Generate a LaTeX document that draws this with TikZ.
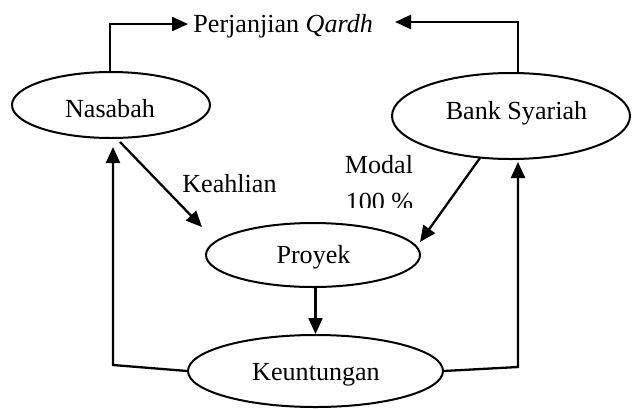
\documentclass[tikz,border=0pt]{standalone}
\usepackage{fontspec}
\setmainfont{Liberation Serif}
\usetikzlibrary{shapes.geometric,arrows.meta}

\begin{document}
\begin{tikzpicture}[x=0.5pt,y=-0.5pt,
  every node/.style={font=\fontsize{13.05pt}{15pt}\selectfont},
  oval/.style={ellipse,draw,line width=1pt,inner sep=0pt},
  lbl/.style={anchor=base,inner sep=0pt},
  arr/.style={line width=1.15pt,-{Triangle[length=8pt,width=7pt]}}]
\useasboundingbox (0,0) rectangle (632,408);

% ellipses
\node[oval,minimum width=99pt,minimum height=33pt]   (nas)  at (111,105) {};
\node[oval,minimum width=119pt,minimum height=43pt]  (bank) at (511,116) {};
\node[oval,minimum width=107pt,minimum height=32pt]  (pro)  at (313,255) {};
\node[oval,minimum width=127.5pt,minimum height=36pt] (keu) at (315.5,371) {};

% texts
\node[lbl] (tnas)  at (110,117)   {Nasabah};
\node[lbl] (tbank) at (516.5,119) {Bank Syariah};
\node[lbl] (tpro)  at (313.5,263) {Proyek};
\node[lbl] (tkeu)  at (316,380)   {Keuntungan};
\node[lbl,anchor=base west] (title) at (193,32) {Perjanjian \textit{Qardh}};
\node[lbl,anchor=base west] (keah)  at (182,192) {Keahlian};
\node[lbl] (modal) at (379,173) {Modal};
\begin{scope}
  \clip (330,180) rectangle (430,207);
  \node[lbl] (pct) at (379.5,210) {100 \%};
\end{scope}

% connector points
\coordinate (nq)  at (110,24);
\coordinate (nqt) at (188,24);
\coordinate (bq)  at (518,22);
\coordinate (bqt) at (395,22);
\coordinate (k1)  at (120,142);
\coordinate (k2)  at (202,227);
\coordinate (m1)  at (480,158);
\coordinate (m2)  at (420,242);
\coordinate (lc)  at (113,365);
\coordinate (lt)  at (113,147);
\coordinate (rc)  at (518,367);
\coordinate (rt)  at (518,162);

% connectors
\draw[arr] (nq |- nas.north) -- (nq) -- (nqt);
\draw[arr] (bq |- bank.north) -- (bq) -- (bqt);
\draw[arr] (k1) -- (k2);
\draw[arr] (m1) -- (m2);
\draw[arr] (keu.north |- pro.south) -- (keu.north);
\draw[arr] (keu.west) -- (lc) -- (lt);
\draw[arr] (keu.east) -- (rc) -- (rt);
\end{tikzpicture}
\end{document}
